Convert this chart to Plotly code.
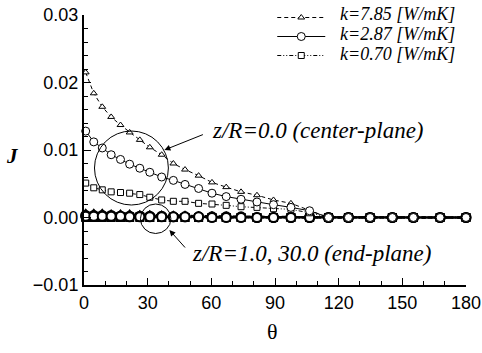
import plotly.graph_objects as go

# ---------------- data ----------------
theta = [0.8, 4.6, 8.6, 12.8, 17.2, 21.5, 26.3, 31.0, 36.6, 42.1, 47.6, 54.0, 60.3,
         67.0, 74.0, 81.5, 89.3, 97.5, 106.3, 115.2, 124.6, 134.8, 145.3, 155.2, 167.8, 180.0]

# centre-plane (z/R = 0.0)
J_c_785 = [0.0215, 0.0184, 0.0164, 0.0149, 0.0137, 0.0126, 0.0115, 0.0104, 0.0093, 0.0080,
           0.0071, 0.0062, 0.0052, 0.0045, 0.0038, 0.0033, 0.0026, 0.0021, 0.0010, 0.0,
           0.0, 0.0, 0.0, 0.0, 0.0, 0.0]
J_c_287 = [0.0128, 0.0112, 0.0103, 0.0093, 0.0086, 0.0079, 0.0073, 0.0067, 0.0060, 0.0055,
           0.0049, 0.0043, 0.0036, 0.0031, 0.0027, 0.0023, 0.0019, 0.0015, 0.0010, 0.0,
           0.0, 0.0, 0.0, 0.0, 0.0, 0.0]
J_c_070 = [0.0051, 0.0044, 0.0041, 0.0038, 0.0037, 0.0036, 0.0034, 0.0030, 0.0026, 0.0024,
           0.0024, 0.0021, 0.0020, 0.0018, 0.0016, 0.0015, 0.0013, 0.0012, 0.0007, 0.0,
           0.0, 0.0, 0.0, 0.0, 0.0, 0.0]

# end-plane (z/R = 1.0 and 30.0)
J_e1_785 = [0.0006, 0.0006, 0.0006, 0.0005, 0.0005, 0.0005, 0.0004, 0.0004, 0.0003, 0.0003,
            0.0003, 0.0002, 0.0002, 0.0002, 0.0001, 0.0001, 0.0001, 0.0001, 0.0, 0.0,
            0.0, 0.0, 0.0, 0.0, 0.0, 0.0]
J_e30_785 = [0.0005, 0.0005, 0.0005, 0.0004, 0.0004, 0.0004, 0.0003, 0.0003, 0.0003, 0.0002,
             0.0002, 0.0002, 0.0002, 0.0001, 0.0001, 0.0001, 0.0001, 0.0, 0.0, 0.0,
             0.0, 0.0, 0.0, 0.0, 0.0, 0.0]
J_e1_287 = [0.0003, 0.0003, 0.0003, 0.0003, 0.0002, 0.0002, 0.0002, 0.0002, 0.0002, 0.0001,
            0.0001, 0.0001, 0.0001, 0.0001, 0.0001, 0.0, 0.0, 0.0, 0.0, 0.0,
            0.0, 0.0, 0.0, 0.0, 0.0, 0.0]
J_e30_287 = [0.0002, 0.0002, 0.0002, 0.0002, 0.0002, 0.0001, 0.0001, 0.0001, 0.0001, 0.0001,
             0.0001, 0.0001, 0.0, 0.0, 0.0, 0.0, 0.0, 0.0, 0.0, 0.0,
             0.0, 0.0, 0.0, 0.0, 0.0, 0.0]
J_e1_070 = [0.0001, 0.0001, 0.0001, 0.0001, 0.0001, 0.0001, 0.0001, 0.0, 0.0, 0.0,
            0.0, 0.0, 0.0, 0.0, 0.0, 0.0, 0.0, 0.0, 0.0, 0.0,
            0.0, 0.0, 0.0, 0.0, 0.0, 0.0]
J_e30_070 = [0.0, 0.0, 0.0, 0.0, 0.0, 0.0, 0.0, 0.0, 0.0, 0.0,
             0.0, 0.0, 0.0, 0.0, 0.0, 0.0, 0.0, 0.0, 0.0, 0.0,
             0.0, 0.0, 0.0, 0.0, 0.0, 0.0]

legend_labels = ["k=7.85 [W/mK]", "k=2.87 [W/mK]", "k=0.70 [W/mK]"]
x_ticks = [0, 30, 60, 90, 120, 150, 180]
y_ticks = [-0.01, 0.00, 0.01, 0.02, 0.03]

# ---------------- styles ----------------
styles = {
    "785": dict(dash="4px,3px", symbol="triangle-up", size=6, rank=1),
    "287": dict(dash="solid", symbol="circle", size=8, rank=2),
    "070": dict(dash="4px,2px,1px,2px,1px,2px", symbol="square", size=6, rank=3),
}
centre = {"785": J_c_785, "287": J_c_287, "070": J_c_070}
ends = {"785": (J_e1_785, J_e30_785), "287": (J_e1_287, J_e30_287), "070": (J_e1_070, J_e30_070)}
draw_order = ["785", "070", "287"]   # circles on top

fig = go.Figure()

for key in draw_order:
    st = styles[key]
    for ev in ends[key]:
        fig.add_trace(go.Scatter(
            x=theta, y=ev, mode="lines+markers", showlegend=False, cliponaxis=False,
            line=dict(color="black", width=2, dash=st["dash"]),
            marker=dict(symbol=st["symbol"], size=st["size"] + 1, color="white",
                        line=dict(color="black", width=2))))

for key in draw_order:
    st = styles[key]
    fig.add_trace(go.Scatter(
        x=theta, y=centre[key], mode="lines+markers", name=" ", showlegend=True,
        legendrank=st["rank"], cliponaxis=False,
        line=dict(color="black", width=1, dash=st["dash"]),
        marker=dict(symbol=st["symbol"], size=st["size"], color="white",
                    line=dict(color="black", width=1))))

L, R, T, B = 83.5, 16, 15, 68
W, H = 482, 353
pw, ph = W - L - R, H - T - B


def px(x):
    return (x - L) / pw


def py(y):
    return (H - B - y) / ph


serif = "Liberation Serif"
ann = []
# axis titles
ann.append(dict(text="<b><i>J</i></b>", x=px(12), y=py(156), xref="paper", yref="paper",
                xanchor="center", yanchor="middle",
                showarrow=False, font=dict(family=serif, size=21, color="black")))
ann.append(dict(text="θ", x=px(272), y=py(331), xref="paper", yref="paper",
                xanchor="center", yanchor="middle",
                showarrow=False, font=dict(family=serif, size=22, color="black")))
# legend text
for lab, yy in zip(legend_labels, [14, 34, 54]):
    ann.append(dict(text="<i>" + lab + "</i>", x=px(338), y=py(yy), xref="paper", yref="paper",
                    xanchor="left", yanchor="middle", showarrow=False,
                    font=dict(family=serif, size=18, color="black")))
# region labels
ann.append(dict(text="<i>z/R=0.0 (center-plane)</i>", x=px(210), y=py(130), xref="paper",
                yref="paper", xanchor="left", yanchor="middle", showarrow=False,
                font=dict(family=serif, size=23, color="black")))
ann.append(dict(text="<i>z/R=1.0, 30.0 (end-plane)</i>", x=px(190), y=py(253), xref="paper",
                yref="paper", xanchor="left", yanchor="middle", showarrow=False,
                font=dict(family=serif, size=23, color="black")))
# arrows
ann.append(dict(text="", x=px(164), y=py(150), xref="paper", yref="paper", showarrow=True,
                ax=40, ay=-16, arrowhead=2, arrowsize=1.2, arrowwidth=1, arrowcolor="black"))
ann.append(dict(text="", x=px(169), y=py(230), xref="paper", yref="paper", showarrow=True,
                ax=17, ay=19, arrowhead=2, arrowsize=1.2, arrowwidth=1, arrowcolor="black"))

shapes = [
    dict(type="circle", xref="paper", yref="paper", x0=px(94), x1=px(168), y0=py(205), y1=py(131),
         line=dict(color="black", width=1)),
    dict(type="circle", xref="paper", yref="paper", x0=px(140), x1=px(170.5), y0=py(233.5), y1=py(204),
         line=dict(color="black", width=1)),
]

fig.update_layout(
    width=W, height=H,
    margin=dict(l=L, r=R, t=T, b=B, autoexpand=False),
    paper_bgcolor="white", plot_bgcolor="white",
    showlegend=True,
    legend=dict(x=px(272), y=py(3), xanchor="left", yanchor="top",
                bgcolor="rgba(0,0,0,0)", font=dict(size=12, color="black"),
                itemwidth=48, tracegroupgap=0),
    annotations=ann, shapes=shapes,
    xaxis=dict(range=[0, 180], tickvals=x_ticks, ticks="inside", ticklen=7, tickwidth=1.2,
               tickcolor="black", showline=True, linecolor="black", linewidth=2,
               showgrid=False, zeroline=False,
               minor=dict(dtick=10, ticks="inside", ticklen=4, tickcolor="black", showgrid=False),
               tickfont=dict(family="Liberation Sans", size=18, color="black")),
    yaxis=dict(range=[-0.01, 0.03], tickvals=y_ticks, tickformat=".2f", ticks="inside",
               ticklen=7, tickwidth=1.2, tickcolor="black", showline=True, linecolor="black",
               linewidth=2, showgrid=False, zeroline=False,
               minor=dict(dtick=0.002, ticks="inside", ticklen=4, tickcolor="black", showgrid=False),
               tickfont=dict(family="Liberation Sans", size=18, color="black")),
)

fig.write_html("out.html")
